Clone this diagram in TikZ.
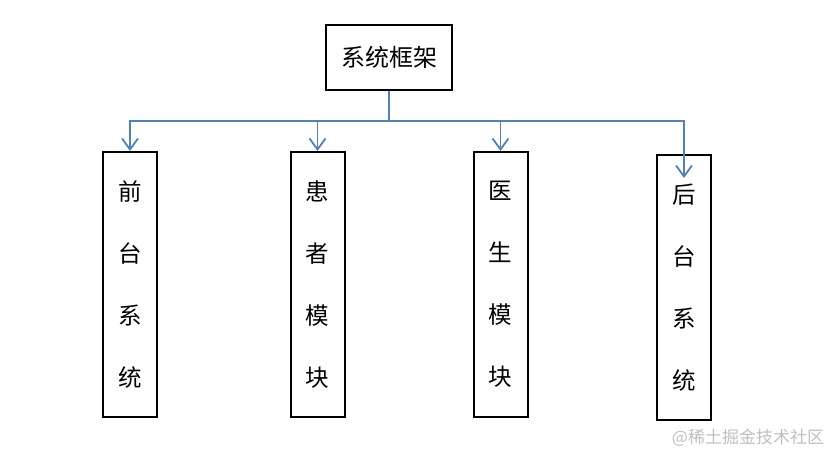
\documentclass[tikz,border=0pt]{standalone}
\usepackage{fontspec}
\setmainfont{Noto Sans CJK SC}
\usetikzlibrary{arrows.meta, positioning, calc}
\definecolor{linkblue}{RGB}{79,129,189}
\tikzset{
    topbox/.style={draw=black, line width=2pt, minimum width=126pt, minimum height=65pt,
        inner sep=0pt, font=\fontsize{24}{24}\selectfont},
    subbox/.style={draw=black, line width=2pt, minimum width=54pt, minimum height=265pt,
        inner sep=0pt, align=center, font=\fontsize{23.5}{62}\selectfont},
    link/.style={draw=linkblue, line width=1.8pt},
    linkarrow/.style={link, -{Straight Barb[length=11pt, width=16pt]}}
}

\begin{document}
\begin{tikzpicture}[x=1pt, y=-1pt]
            \useasboundingbox (0, 0) rectangle (832, 454);
            \node[topbox] (frame) at (389, 57.5) {系统框架};
            \node[subbox] (front) at (130, 284.5) {前\\台\\系\\统};
            \node[subbox] (patient) at (317.5, 284.5) {患\\者\\模\\块};
            \node[subbox] (doctor) at (500.5, 284.5) {医\\生\\模\\块};
            \node[subbox] (back) at (684, 287.5) {后\\台\\系\\统};
            \coordinate (split) at (389, 121);
            \coordinate (backtip) at (684, 178);
            \draw[link] (frame.south) -- (split);
            \draw[linkarrow] (split) -| (front.north);
            \draw[linkarrow] (split) -| (patient.north);
            \draw[linkarrow] (split) -| (doctor.north);
            \draw[linkarrow] (split) -| (backtip);
            \node[text=black!25, font=\fontsize{17}{17}\selectfont] (mark) at (748, 438) {@稀土掘金技术社区};
        \end{tikzpicture}
\end{document}
